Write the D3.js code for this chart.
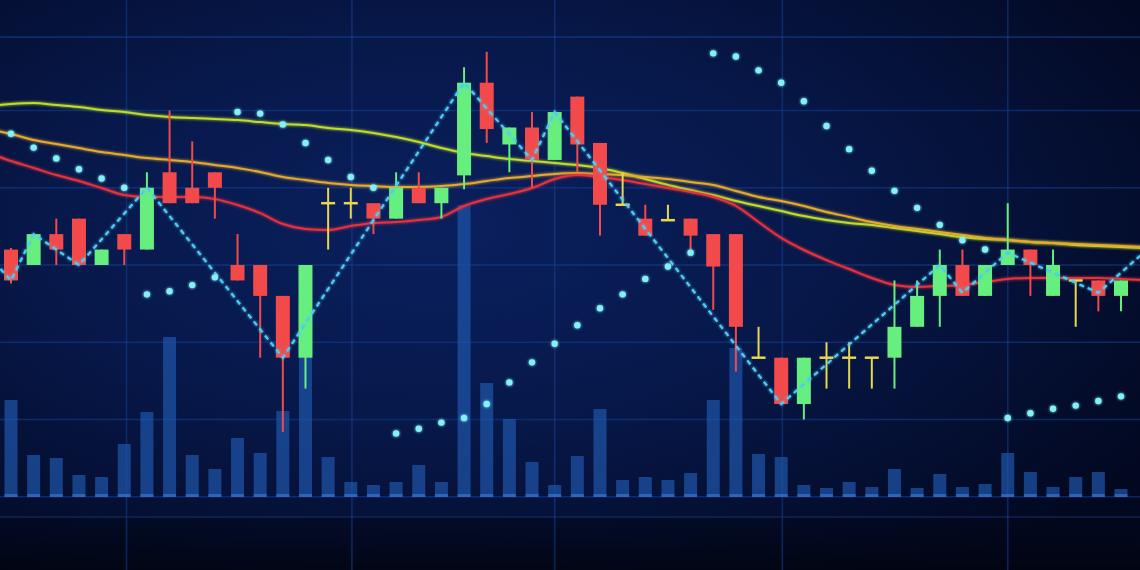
<!DOCTYPE html>
<html><head><meta charset="utf-8">
<script src="https://cdn.jsdelivr.net/npm/d3@7"></script>
<style>html,body{margin:0;padding:0;background:#020823;overflow:hidden}</style>
</head><body><svg id="c" width="1140" height="570"></svg>
<script>
// ---- data ----
const opens  = [111,110,112,113,110,112,111,116,115,116,110,110,108,104,114,114,114,113,115,114,115.8,121.8,117.8,118.9,116.8,120.9,117.9,113.9,113,112.9,113,112,112,104,104,101,104,104,104,104,106,108,110,108,110,111,108,109,109,108];
const highs  = [111.1,112,113,113,111,112,116,120,118,116,112,110,108,110,115,115,114,116,116,115,122.8,123.8,118.9,119.9,119.9,120.9,117.9,116,113.9,113.9,113,112,112,106,104,104,105,105,104,109,109,111,111,110,114,111,111,109,109,109];
const lows   = [108.8,110,110,110,110,110,111,114,114,113,109,104,99.2,102,111,113,112,113,114,113,114.9,117.9,116,115,116.8,116,111.9,113.9,111.9,112.9,111,107.1,103.1,104,101,100,102,102,102,102,106,106,108,108,110,108,108,106,107,107];
const closes = [109,112,111,110,111,111,115,114,114,115,109,108,104,110,114,114,113,115,114,115,121.8,118.8,118.9,116.8,119.9,117.8,113.9,113.9,111.9,112.9,111.9,109.9,106,104,101,104,104,104,104,106,108,110,108,110,111,110,110,109,108,109];
const volumes = [970,420,390,220,200,530,850,1600,420,280,590,440,860,1420,400,150,120,150,320,150,2920,1140,780,350,120,410,880,170,200,170,240,970,1490,430,400,120,90,150,100,280,90,230,100,130,440,250,100,200,250,80];
const sarValues = [118.5,117.6,116.9,116.2,115.6,115.0,108.1,108.3,108.7,109.2,119.9,119.8,119.1,117.9,116.8,115.7,115.0,99.1,99.4,99.8,100.1,101.0,102.4,103.7,104.9,106.1,107.2,108.1,109.1,109.9,110.8,123.7,123.5,122.6,121.8,120.6,119.0,117.5,116.1,114.8,113.7,112.6,111.6,111.0,100.1,100.4,100.7,100.9,101.2,101.5];
const zigzagIndex = [-1,0,1,3,6,12,20,23,24,34,41,42,44,48,50];
const zigzagPrice = [110.6,109,112,110,115,104,121.8,116.8,119.9,101,110,108.2,110.8,108.2,110.8];
// moving averages sampled at candle index -1 .. 50
const maIndex = [-1,0,1,2,3,4,5,6,7,8,9,10,11,12,13,14,15,16,17,18,19,20,21,22,23,24,25,26,27,28,29,30,31,32,33,34,35,36,37,38,39,40,41,42,43,44,45,46,47,48,49,50];
const maLong  = [120.29,120.42,120.48,120.35,120.23,120.03,119.90,119.71,119.58,119.51,119.45,119.38,119.25,119.12,119.06,118.87,118.74,118.54,118.28,117.96,117.57,117.25,117.05,116.86,116.73,116.60,116.47,116.28,115.95,115.57,115.18,114.85,114.53,114.14,113.82,113.49,113.17,112.91,112.72,112.59,112.39,112.20,112.01,111.81,111.68,111.62,111.49,111.42,111.29,111.23,111.16,111.10];
const maMid   = [118.80,118.48,118.09,117.83,117.57,117.31,117.12,116.92,116.80,116.67,116.47,116.28,116.02,115.69,115.50,115.31,115.18,115.11,115.05,115.05,115.11,115.24,115.44,115.63,115.76,115.89,115.95,115.89,115.82,115.69,115.57,115.37,115.18,114.79,114.40,114.14,113.82,113.43,113.11,112.78,112.52,112.33,112.14,111.94,111.75,111.62,111.49,111.42,111.36,111.29,111.23,111.16];
const maShort = [117.25,116.73,116.28,115.82,115.44,114.98,114.53,114.40,114.40,114.40,114.27,113.88,113.36,112.65,112.33,112.26,112.52,112.72,112.78,112.91,113.11,113.82,114.27,114.59,114.98,115.57,115.82,115.69,115.50,115.24,114.98,114.72,114.40,113.82,112.78,111.75,110.97,110.32,109.74,109.16,108.71,108.58,108.64,108.71,108.90,109.09,109.16,109.16,109.16,109.16,109.09,109.03];
const gridPrices  = [95,100,105,110,115,120,124.75];
const gridIndices = [5.1,15.05,24,34.05,44];

// ---- drawing ----
const W=1140,H=570;
const svg=d3.select('#c');
const x=d3.scaleLinear().domain([0,49]).range([11,1121]);
const y=d3.scaleLinear().domain([100,120]).range([419.5,110.5]);
const yv=d3.scaleLinear().domain([0,3000]).range([497,197]);

const defs=svg.append('defs');
const rg=defs.append('radialGradient').attr('id','bg').attr('cx','38%').attr('cy','40%').attr('r','75%');
rg.append('stop').attr('offset','0%').attr('stop-color','#0a205e');
rg.append('stop').attr('offset','45%').attr('stop-color','#07184a');
rg.append('stop').attr('offset','100%').attr('stop-color','#020820');
const lg=defs.append('linearGradient').attr('id','bot').attr('x1',0).attr('y1',0).attr('x2',0).attr('y2',1);
lg.append('stop').attr('offset','0%').attr('stop-color','#02071c').attr('stop-opacity',0.55);
lg.append('stop').attr('offset','100%').attr('stop-color','#01040f').attr('stop-opacity',0.8);
const glow=defs.append('filter').attr('id','glow').attr('x','-50%').attr('y','-50%').attr('width','200%').attr('height','200%');
glow.append('feGaussianBlur').attr('stdDeviation',1.6).attr('result','b');
const fm=glow.append('feMerge'); fm.append('feMergeNode').attr('in','b'); fm.append('feMergeNode').attr('in','SourceGraphic');
const soft=defs.append('filter').attr('id','soft');
soft.append('feGaussianBlur').attr('stdDeviation',0.7);

svg.append('rect').attr('width',W).attr('height',H).attr('fill','url(#bg)');
svg.append('rect').attr('x',0).attr('y',517).attr('width',W).attr('height',H-517).attr('fill','url(#bot)');

// grid
const g=svg.append('g').attr('filter','url(#soft)');
g.selectAll('line.h').data(gridPrices).join('line').attr('class','h')
 .attr('x1',0).attr('x2',W).attr('y1',d=>y(d)).attr('y2',d=>y(d))
 .attr('stroke','#1a3f90').attr('stroke-width',1.6).attr('opacity',0.6);
g.append('line').attr('x1',0).attr('x2',W).attr('y1',517).attr('y2',517).attr('stroke','#143270').attr('stroke-width',1.5).attr('opacity',0.6);
g.selectAll('line.v').data(gridIndices).join('line').attr('class','v')
 .attr('x1',d=>x(d)).attr('x2',d=>x(d)).attr('y1',0).attr('y2',H)
 .attr('stroke','#1a3f90').attr('stroke-width',1.6).attr('opacity',0.55);

// volume
const vg=svg.append('g');
vg.selectAll('rect.vol').data(volumes).join('rect').attr('class','vol')
 .attr('x',(d,i)=>x(i)-6.5).attr('width',13)
 .attr('y',d=>yv(d)).attr('height',d=>yv(0)-yv(d))
 .attr('fill','#1f55a8').attr('opacity',0.72);
vg.selectAll('rect.vb').data(volumes).join('rect').attr('class','vb')
 .attr('x',(d,i)=>x(i)-6.5).attr('width',13)
 .attr('y',yv(0)-3).attr('height',3)
 .attr('fill','#3a7fda').attr('opacity',0.6);

// moving averages
const lineGen=arr=>d3.line().x((d,i)=>x(maIndex[i])).y(d=>y(d)).curve(d3.curveMonotoneX)(arr);
[[maLong,'#bedc2c'],[maMid,'#e4aa2e'],[maShort,'#e5323e']].forEach(([arr,col])=>{
  svg.append('path').attr('d',lineGen(arr)).attr('fill','none').attr('stroke',col)
   .attr('stroke-width',2).attr('filter','url(#glow)');
});

// candles
const cg=svg.append('g');
const idx=d3.range(opens.length);
const col=i=>closes[i]>opens[i]?'#66ee7e':(closes[i]<opens[i]?'#f24a4a':'#e8d64e');
cg.selectAll('line.wick').data(idx).join('line').attr('class','wick')
 .attr('x1',i=>x(i)).attr('x2',i=>x(i)).attr('y1',i=>y(highs[i])).attr('y2',i=>y(lows[i]))
 .attr('stroke',col).attr('stroke-width',2);
cg.selectAll('rect.body').data(idx.filter(i=>opens[i]!==closes[i])).join('rect').attr('class','body')
 .attr('x',i=>x(i)-7).attr('width',14)
 .attr('y',i=>y(Math.max(opens[i],closes[i])))
 .attr('height',i=>Math.abs(y(opens[i])-y(closes[i])))
 .attr('fill',col);
cg.selectAll('line.doji').data(idx.filter(i=>opens[i]===closes[i])).join('line').attr('class','doji')
 .attr('x1',i=>x(i)-7).attr('x2',i=>x(i)+7).attr('y1',i=>y(opens[i])).attr('y2',i=>y(opens[i]))
 .attr('stroke',col).attr('stroke-width',2.5);

// zigzag
const zz=zigzagIndex.map((d,i)=>[x(d),y(zigzagPrice[i])]);
svg.append('path').attr('d',d3.line()(zz)).attr('fill','none')
 .attr('stroke','#50ccf2').attr('stroke-width',2.2).attr('stroke-dasharray','5,4').attr('filter','url(#glow)');

// parabolic SAR
svg.append('g').attr('filter','url(#glow)').selectAll('circle').data(sarValues).join('circle')
 .attr('cx',(d,i)=>x(i)).attr('cy',d=>y(d)).attr('r',3.2).attr('fill','#84f0f6');
</script></body></html>
